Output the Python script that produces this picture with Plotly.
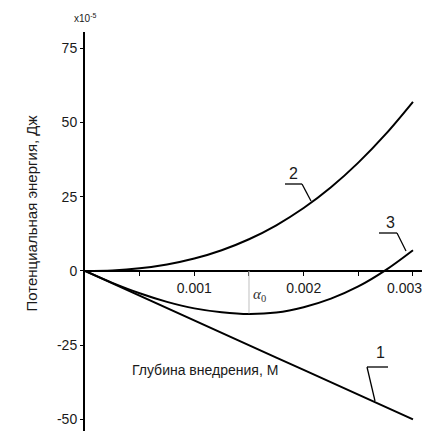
import plotly.graph_objects as go

# data (x in m, energy in units of 1e-5 J)
depth = [0, 0.00025, 0.0005, 0.00075, 0.001, 0.00125, 0.0015, 0.00175, 0.002,
         0.00225, 0.0025, 0.00275, 0.003]
energy_1 = [0, -4.2, -8.3, -12.5, -16.7, -20.8, -25.0, -29.2, -33.3, -37.5, -41.7, -45.8, -50.0]
energy_2 = [0, 0.2, 0.9, 2.2, 4.2, 7.0, 10.7, 15.4, 21.2, 28.2, 36.5, 46.1, 57.0]
energy_3 = [0, -4.0, -7.5, -10.4, -12.6, -13.9, -14.5, -14.0, -12.2, -9.3, -5.2, 0.3, 7.0]

x_tickvals = [0.0005, 0.001, 0.0015, 0.002, 0.0025, 0.003]
x_ticktext = ["", "0.001", "", "0.002", "", ""]
last_tick_label = "0.003"
y_tickvals = [-50, -25, 0, 25, 50, 75]
y_ticktext = ["-50", "-25", "0", "25", "50", "75"]

alpha0_x = 0.0015
alpha0_y = -14.3

XR = [0, 0.00311]
YR = [-53.9, 80.5]

# page body has an 8px margin; figure shrunk so that no scrollbars appear.
# plot area spans window px x 85..425, y 32..431
OFF = 8
W, H = 430 - OFF, 431 - OFF
sans = "Liberation Sans, Arial, sans-serif"
txt_col = "#1a1a1a"

fig = go.Figure()
for ys, shp in [(energy_1, "linear"), (energy_2, "spline"), (energy_3, "spline")]:
    fig.add_trace(go.Scatter(x=depth, y=ys, mode="lines",
                             line=dict(color="black", width=2, shape=shp),
                             showlegend=False, hoverinfo="skip"))

# gray marker line at alpha0
fig.add_shape(type="line", xref="x", yref="y", x0=alpha0_x, x1=alpha0_x, y0=0, y1=alpha0_y,
              line=dict(color="#c0c0c0", width=1))


def px2x(px):
    return (px - 85) / 340 * (XR[1] - XR[0]) + XR[0]


def py2y(py):
    return YR[1] - (py - 32) / 399 * (YR[1] - YR[0])


def seg(x0, y0, x1, y1):
    fig.add_shape(type="line", xref="x", yref="y",
                  x0=px2x(x0), y0=py2y(y0), x1=px2x(x1), y1=py2y(y1),
                  line=dict(color="black", width=1.3))


# leader lines of the curve labels
seg(367, 367, 388, 367); seg(367, 367, 375, 401)      # 1
seg(285, 184, 302, 184); seg(302, 184, 311, 201)      # 2
seg(379, 233, 397, 233); seg(397, 233, 406, 251)      # 3

for lab, px, py in [("1", 380, 352), ("2", 293, 173), ("3", 390, 222)]:
    fig.add_annotation(x=px2x(px), y=py2y(py), xref="x", yref="y", text=lab,
                       showarrow=False, font=dict(family=sans, size=16, color=txt_col))

# last x tick label, kept inside the visible page
fig.add_annotation(x=px2x(424), y=0, xref="x", yref="y", xanchor="right", yanchor="top",
                   yshift=-7, text=last_tick_label, showarrow=False,
                   font=dict(family=sans, size=14, color=txt_col))

fig.add_annotation(x=px2x(259), y=py2y(295), xref="x", yref="y",
                   text="<i>α</i><sub>0</sub>", showarrow=False,
                   font=dict(family="Liberation Serif, DejaVu Serif, serif", size=15, color="#333"))

fig.add_annotation(x=px2x(205), y=py2y(370), xref="x", yref="y",
                   text="Глубина внедрения, М", showarrow=False,
                   font=dict(family=sans, size=14, color=txt_col))

fig.add_annotation(x=(72 - 85) / 340, y=(431 - 18) / 399, xref="paper", yref="paper",
                   xanchor="left", yanchor="middle",
                   text="x10<sup>-5</sup>", showarrow=False,
                   font=dict(family=sans, size=10, color=txt_col))

fig.add_annotation(x=(20 - 85) / 340, y=(431 - 214) / 399, xref="paper", yref="paper",
                   text="Потенциальная энергия, Дж", textangle=-90, showarrow=False,
                   font=dict(family=sans, size=15, color=txt_col))

zero_pos = (0 - YR[0]) / (YR[1] - YR[0])

fig.update_layout(
    width=W, height=H,
    margin=dict(l=85 - OFF, r=5, t=32 - OFF, b=0),
    paper_bgcolor="white", plot_bgcolor="white",
    xaxis=dict(range=XR, anchor="free", position=zero_pos, showline=True,
               linecolor="black", linewidth=2, ticks="outside", ticklen=4,
               tickcolor="black", tickvals=x_tickvals, ticktext=x_ticktext,
               showgrid=False, zeroline=False,
               tickfont=dict(family=sans, size=14, color=txt_col)),
    yaxis=dict(range=YR, showline=True, linecolor="black", linewidth=2,
               ticks="outside", ticklen=3, tickcolor="black",
               tickvals=y_tickvals, ticktext=y_ticktext, showgrid=False, zeroline=False,
               tickfont=dict(family=sans, size=14, color=txt_col)),
)

fig.write_html("out.html")
